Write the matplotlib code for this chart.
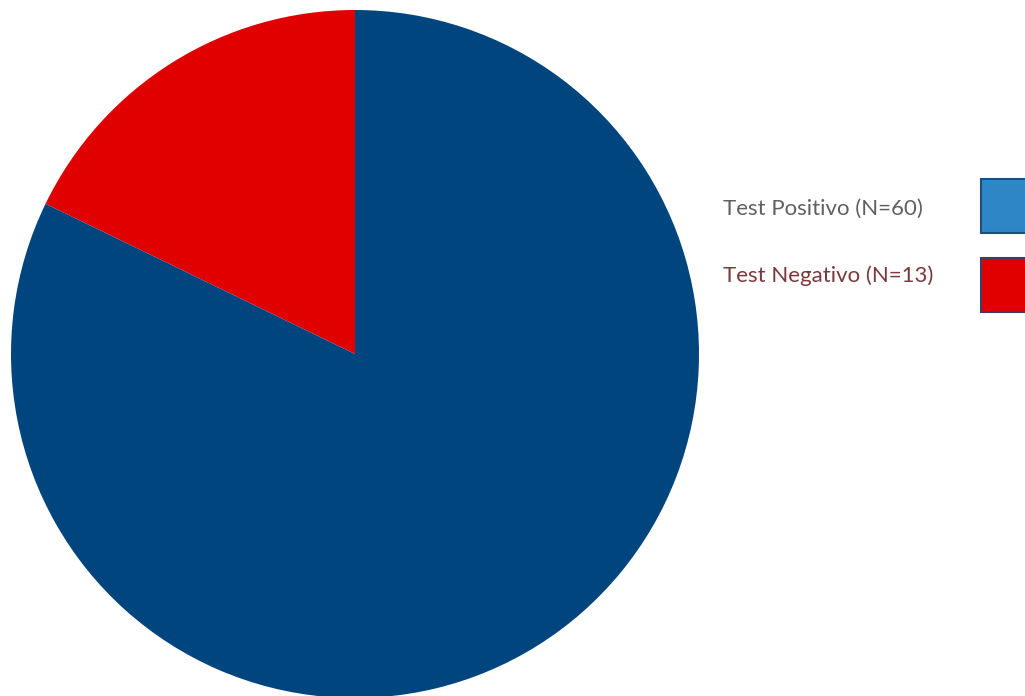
import matplotlib
matplotlib.use("Agg")
import matplotlib.pyplot as plt
from matplotlib.patches import Rectangle

labels = ["Test Positivo (N=60)", "Test Negativo (N=13)"]
counts = [60, 13]
pie_colors = ["#00457E", "#E10000"]
legend_colors = ["#2F86C6", "#E10000"]
legend_edges = ["#1F4E79", "#3A3F6A"]
text_colors = ["#606060", "#7A3A3A"]

W, H = 1025, 696
fig = plt.figure(figsize=(W / 100, H / 100), dpi=100)

cx, cy, r = 355, 354, 344
ax = fig.add_axes([(cx - r) / W, (H - cy - r) / H, 2 * r / W, 2 * r / H])
ax.pie(counts[::-1], colors=pie_colors[::-1], startangle=90, counterclock=True,
       radius=1, wedgeprops=dict(linewidth=0))
ax.set_xlim(-1, 1)
ax.set_ylim(-1, 1)
ax.set_aspect("equal")
ax.axis("off")

text_y = [209, 276]
box_y = [179, 258]
for i, lab in enumerate(labels):
    fig.text(723 / W, 1 - text_y[i] / H, lab, ha="left", va="center",
             fontsize=16, family="Lato", color=text_colors[i])
    fig.patches.append(Rectangle((981 / W, 1 - (box_y[i] + 54) / H), 60 / W, 54 / H,
                                 transform=fig.transFigure, facecolor=legend_colors[i],
                                 edgecolor=legend_edges[i], linewidth=1.5))

fig.savefig("out.png", dpi=100)
